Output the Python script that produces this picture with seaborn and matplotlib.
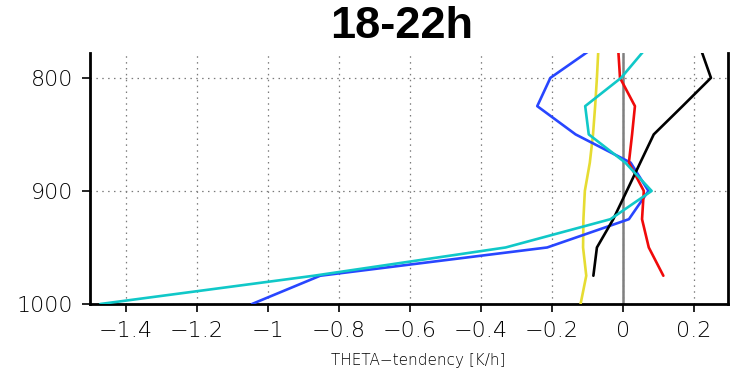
import numpy as np
import pandas as pd
import matplotlib
matplotlib.use("Agg")
import matplotlib.pyplot as plt
import seaborn as sns

# Pressure levels (hPa) and theta tendency (K/h) of each term
levels = [1000, 975, 950, 925, 900, 875, 850, 825, 800, 775]
blue   = [-1.044, -0.852, -0.213, 0.017, 0.072, 0.022, -0.133, -0.241, -0.204, -0.090]
cyan   = [-1.471, -0.870, -0.330, -0.035, 0.081, 0.007, -0.096, -0.106, -0.005, 0.062]
red    = [None, 0.114, 0.073, 0.054, 0.059, 0.017, 0.026, 0.034, -0.008, -0.013]
black  = [None, -0.083, -0.073, -0.027, 0.011, 0.049, 0.087, 0.168, 0.248, 0.220]
yellow = [-0.119, -0.103, -0.112, -0.111, -0.107, -0.093, -0.084, -0.078, -0.073, -0.069]

x_ticks = [-1.4, -1.2, -1.0, -0.8, -0.6, -0.4, -0.2, 0.0, 0.2]
x_tick_labels = ["\u22121.4", "\u22121.2", "\u22121", "\u22120.8", "\u22120.6",
                 "\u22120.4", "\u22120.2", "0", "0.2"]
y_ticks = [800, 900, 1000]
title = "18-22h"
x_label = "THETA\u2212tendency [K/h]"

series = {"yellow": yellow, "blue": blue, "red": red, "black": black, "cyan": cyan}
colors = {"yellow": "#e6dc32", "blue": "#2846ff", "red": "#f00a0a",
          "black": "#000000", "cyan": "#10c8c8"}

frames = []
for name, vals in series.items():
    frames.append(pd.DataFrame({"p": levels, "tend": vals, "series": name}))
df = pd.concat(frames, ignore_index=True).dropna()

sns.set_theme(style="white")
plt.rcParams["font.family"] = ["DejaVu Sans"]
plt.rcParams["text.color"] = "black"

fig = plt.figure(figsize=(7.46, 3.70), dpi=100)
ax = fig.add_axes([90 / 746, 1 - 304 / 370, (728 - 90) / 746, (304 - 53) / 370])

# zero line
ax.axvline(0, color="#808080", lw=1.8, zorder=2)

for i, name in enumerate(series):
    sns.lineplot(data=df[df["series"] == name], x="tend", y="p", sort=False,
                 estimator=None, orient="y", color=colors[name], lw=1.9,
                 ax=ax, legend=False, zorder=3 + i)

ax.set_xlim(-1.5, 0.296)
ax.set_ylim(1000, 778)
ax.set_xticks(x_ticks)
ax.set_xticklabels(x_tick_labels)
ax.set_yticks(y_ticks)
ax.set_yticklabels([str(v) for v in y_ticks])

ax.grid(True, color="#7a7a7a", lw=0.9, linestyle=(0, (1.2, 3.5)))
ax.set_axisbelow(True)

for side in ["left", "right", "bottom"]:
    ax.spines[side].set_visible(True)
    ax.spines[side].set_color("black")
    ax.spines[side].set_linewidth(2.0)
ax.spines["top"].set_visible(False)

ax.tick_params(axis="both", which="major", direction="out", length=6, width=1.2,
               color="black", labelsize=16, labelcolor="black", pad=6,
               bottom=True, left=True, top=False, right=False)
for lab in ax.get_xticklabels() + ax.get_yticklabels():
    lab.set_fontweight("light")

ax.set_xlabel("")
ax.set_ylabel("")

fig.text(418 / 746, 1 - 365 / 370, x_label, fontsize=11, ha="center",
         va="baseline", color="black", fontweight="light")
fig.text(402 / 746, 1 - 38 / 370, title, fontsize=32.5, fontweight="bold",
         color="black", family=["Liberation Sans", "DejaVu Sans"],
         ha="center", va="baseline")

fig.savefig("out.png", dpi=100, facecolor="white")
